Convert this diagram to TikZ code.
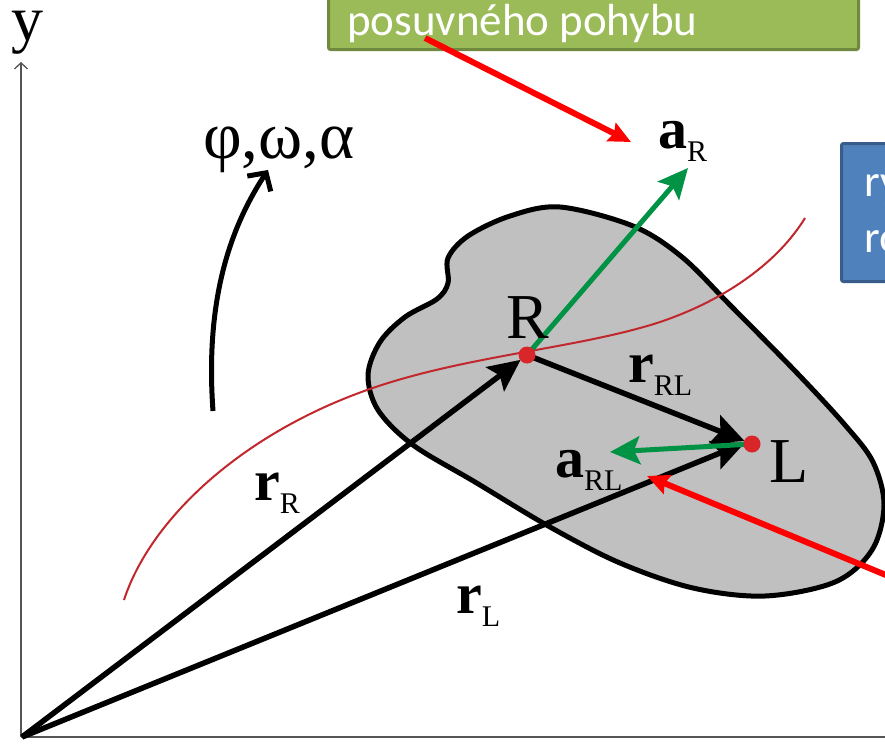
\documentclass[tikz,border=0pt]{standalone}
\usepackage{fontspec}
\setmainfont{Liberation Serif}
\newfontfamily\calib{Carlito}
\usetikzlibrary{arrows.meta}
\definecolor{bodygray}{HTML}{C0C0C0}
\definecolor{pathred}{HTML}{C1272D}
\definecolor{dotred}{HTML}{D9262B}
\definecolor{vecgreen}{HTML}{009245}
\definecolor{arrred}{HTML}{FF0000}
\definecolor{gfill}{HTML}{9BBB59}
\definecolor{gline}{HTML}{71893F}
\definecolor{bfill}{HTML}{4F81BD}
\definecolor{bline}{HTML}{385D8A}
\definecolor{axgray}{HTML}{555555}
\newcommand{\vlab}[2]{{\bfseries #1}\raisebox{-13pt}{\fontsize{30}{30}\selectfont #2}}
\tikzset{
  axisline/.style={draw=axgray, line width=1.3pt},
  vecblack/.style={draw=black, line width=5.5pt, -{Stealth[length=32pt,width=30pt,inset=6pt]}, shorten >=8pt},
  vecgr/.style={draw=vecgreen, line width=5pt, -{Stealth[length=30pt,width=28pt,inset=6pt]}},
  pointer/.style={draw=arrred, line width=6pt, -{Stealth[length=22pt,width=20pt,inset=3pt]}},
  lbl/.style={anchor=base west, inner sep=0pt, font=\fontsize{58}{58}\selectfont},
  biglbl/.style={anchor=base west, inner sep=0pt, font=\fontsize{64}{64}\selectfont},
  dotnode/.style={circle, fill=dotred, minimum size=17pt, inner sep=0pt},
  boxtext/.style={anchor=base west, inner sep=0pt, text=white, font=\calib\fontsize{45}{45}\selectfont},
}
\begin{document}
\begin{tikzpicture}[x=1pt,y=-1pt]
\useasboundingbox (0,0) rectangle (885,750);
\clip (0,0) rectangle (885,750);
\fill[white] (0,0) rectangle (885,750);

% axes
\coordinate (O) at (22,737);
\coordinate (ytop) at (21,62);
\coordinate (xend) at (890,737);
\draw[axisline, -{Straight Barb[length=6pt,width=13pt]}] (21,737) -- (ytop);
\draw[axisline] (21,737) -- (xend);
\node[biglbl, text height=30pt] (ylab) at (11,40) {y};

% rigid body
\filldraw[fill=bodygray, draw=black, line width=5pt]
  plot[smooth cycle, tension=0.55] coordinates {
  (560,207) (633,226) (682,257) (730,305) (797,373) (845,425) (873,462)
  (884,505) (872,550) (835,582) (765,596) (693,588) (620,563) (550,527)
  (475,482) (413,445) (378,410) (368,375) (380,342) (405,317) (437,299)
  (448,283) (448,258) (468,236) (510,216)};

% trajectory
\draw[pathred, line width=2pt]
  (124,600) .. controls (150,520) and (240,435) .. (367,390)
  .. controls (457,358) and (560,350) .. (640,328)
  .. controls (700,312) and (770,275) .. (805,218);

% points
\coordinate (R) at (527,355);
\coordinate (L) at (752,444);
\coordinate (aRtip) at (688,168);
\coordinate (aRLtip) at (610,452);

% position vectors
\draw[vecblack] (O) -- (R);
\draw[vecblack] (O) -- ([yshift=4pt]L);
\draw[vecblack] (R) -- (L);

% accelerations
\draw[vecgr] (R) -- (aRtip);
\draw[vecgr] (L) -- (aRLtip);

\node[dotnode] (Rdot) at (R) {};
\node[dotnode] (Ldot) at (L) {};

% rotation arrow
\coordinate (rotA) at (213,411);
\coordinate (rotB) at (268,170);
\draw[line width=5pt, -{Straight Barb[length=13pt,width=28pt]}]
  (rotA) .. controls (205,300) and (230,228) .. (rotB);
\node[lbl, font=\fontsize{67}{67}\selectfont] (greek) at (203,158) {φ,ω,α};

% labels
\node[biglbl] (Rlab) at (506,338) {R};
\node[biglbl] (Llab) at (769,482) {L};
\node[lbl] (rR) at (254,500) {\vlab{r}{R}};
\node[lbl] (aR) at (658,148) {\vlab{a}{R}};
\node[lbl] (rRL) at (628,382) {\vlab{r}{RL}};
\node[lbl] (aRL) at (555,477) {\vlab{a}{RL}};
\node[lbl] (rL) at (456,613) {\vlab{r}{L}};

% annotation boxes
\node[draw=gline, fill=gfill, line width=3pt, rounded corners=2pt, anchor=south west,
      minimum width=530pt, minimum height=120pt, inner sep=0pt] (gbox) at (327,51) {};
\node[boxtext] (gtext) at (347,35) {posuvného pohybu};
\node[draw=bline, fill=bfill, line width=3pt, rounded corners=2pt, anchor=north west,
      minimum width=120pt, minimum height=138pt, inner sep=0pt] (bbox) at (840,142) {};
\node[boxtext] (btext1) at (864,196) {ry};
\node[boxtext] (btext2) at (864,252) {ro};

% pointers
\coordinate (p1s) at (425,38);
\coordinate (p1e) at (631,142);
\coordinate (p2s) at (910,585);
\coordinate (p2e) at (647,476);
\draw[pointer] (p1s) -- (p1e);
\draw[pointer] (p2s) -- (p2e);
\end{tikzpicture}
\end{document}
